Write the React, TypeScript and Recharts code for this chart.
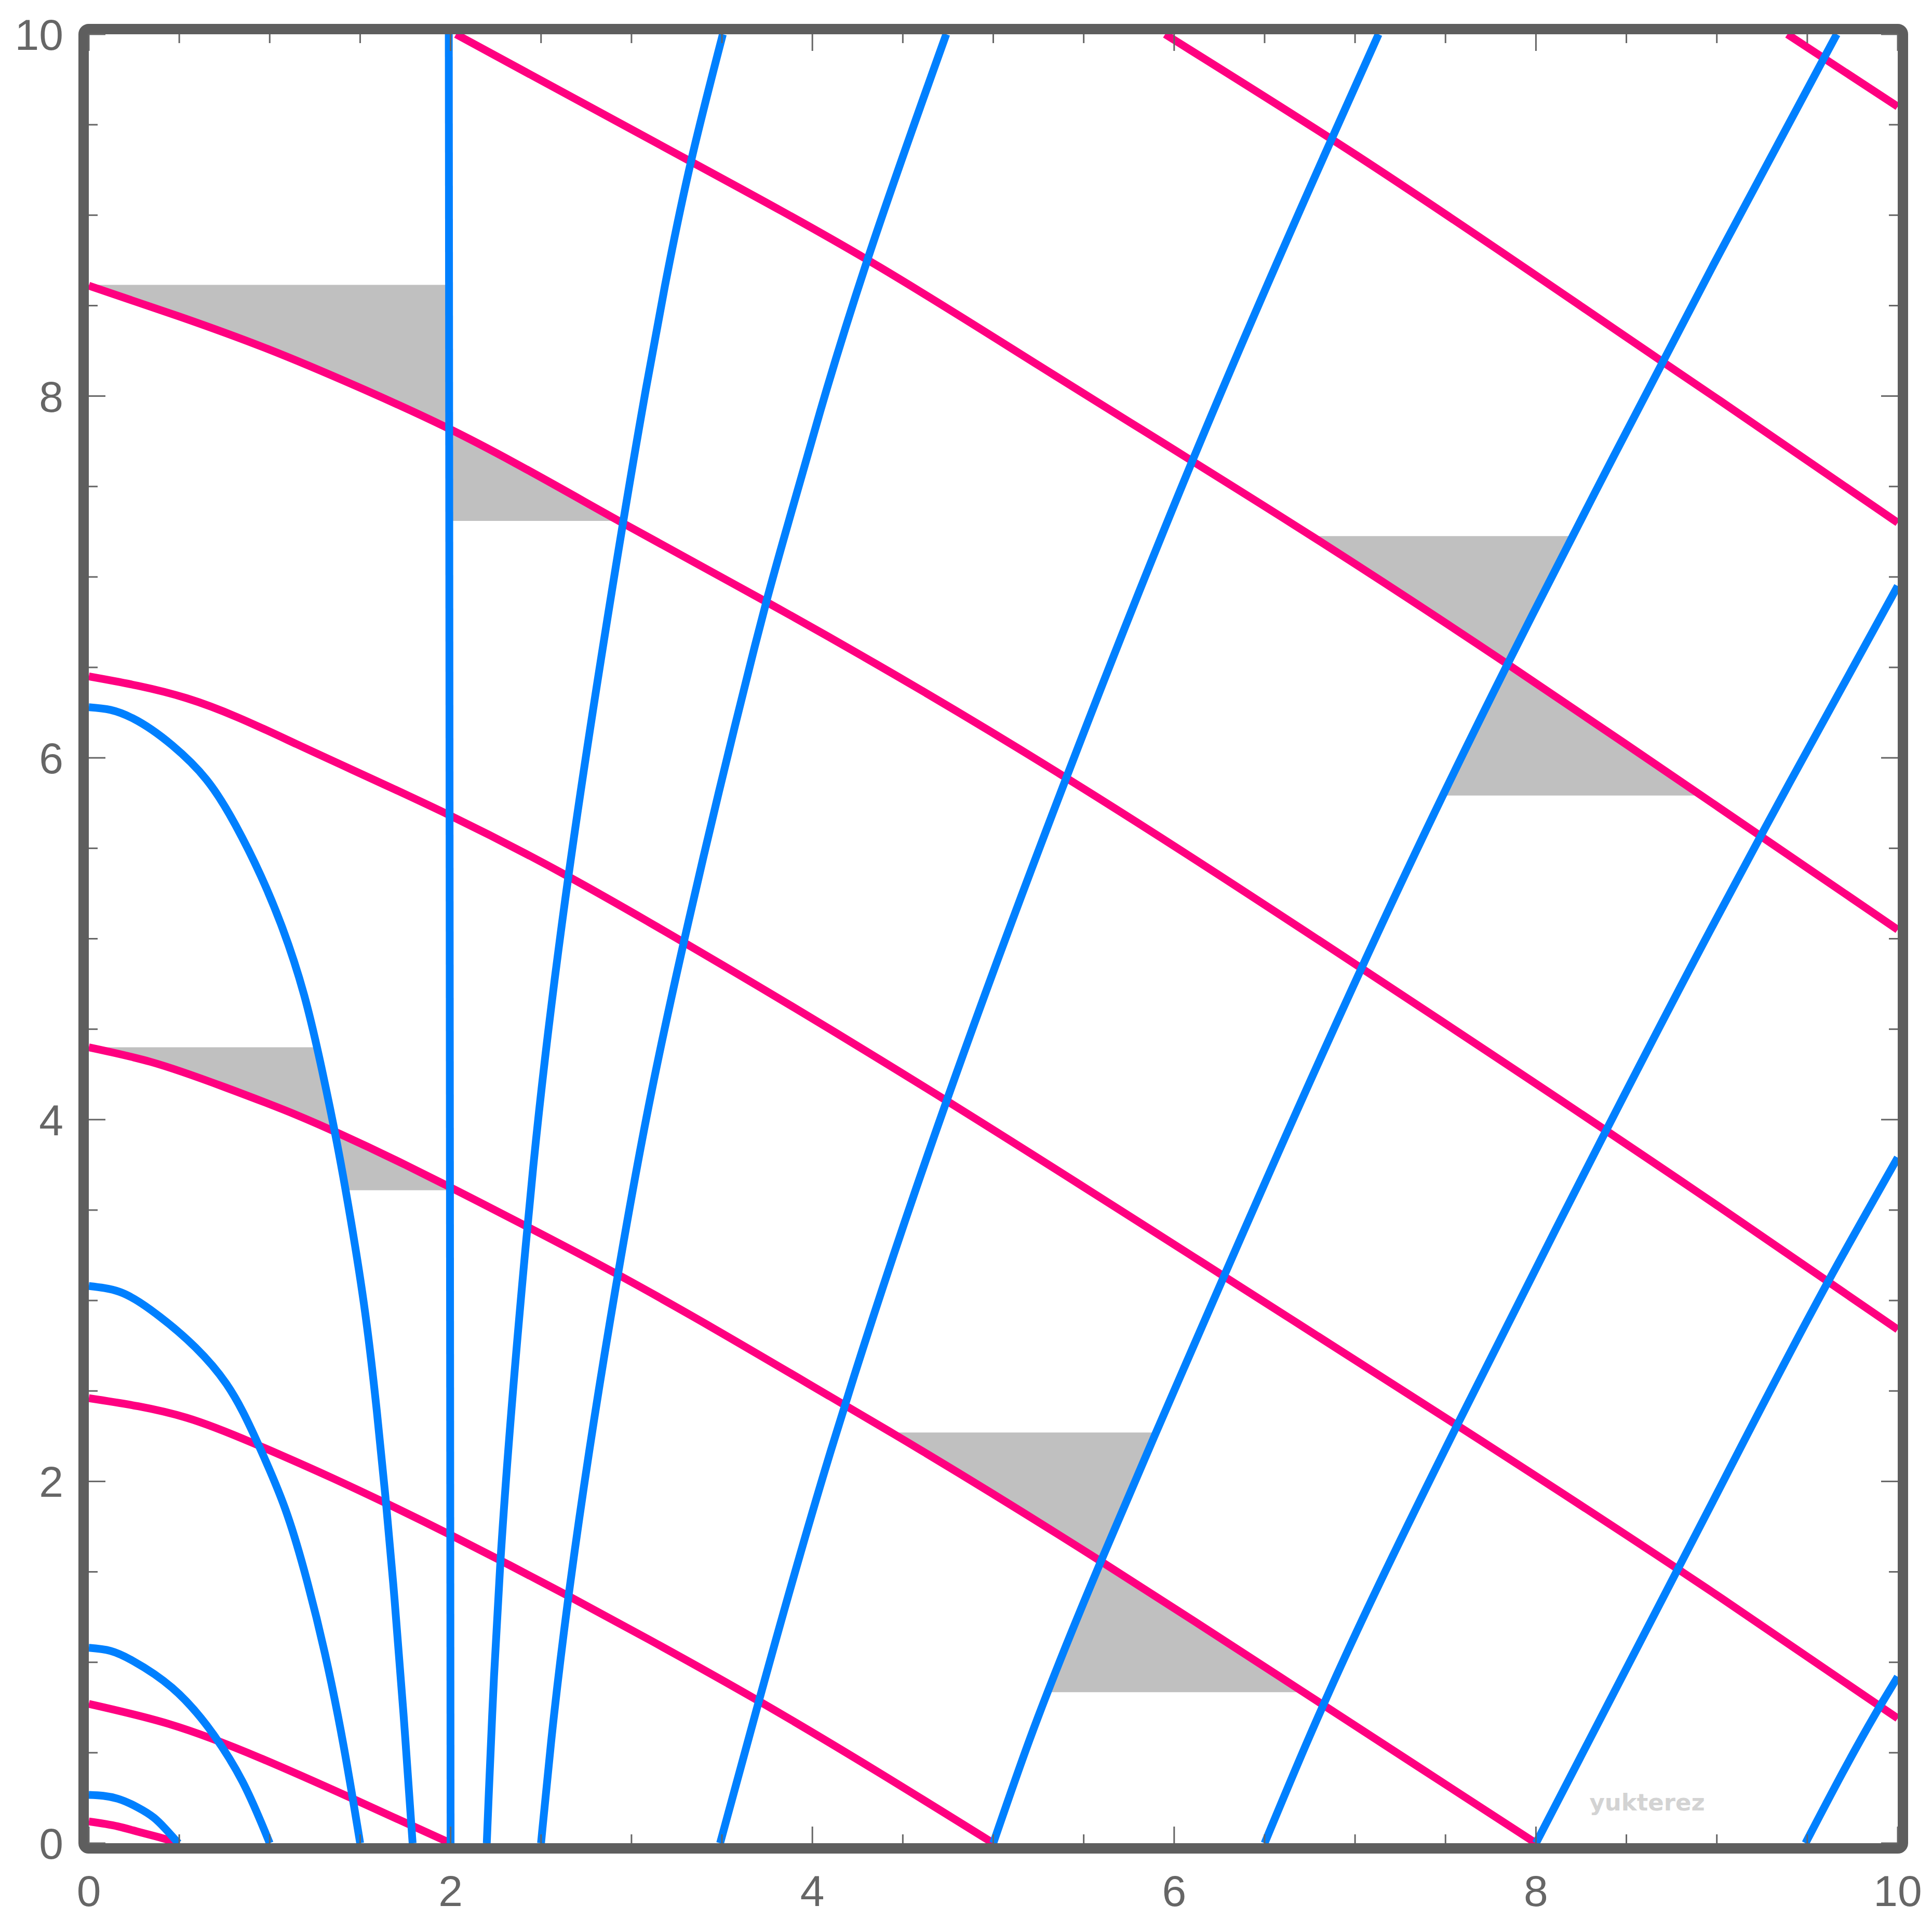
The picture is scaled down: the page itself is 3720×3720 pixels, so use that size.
import React from "react";
import { ComposedChart, Line, Area, XAxis, YAxis, ReferenceArea } from "recharts";

type Pt = [number, number];
type Band = [number, number, number];

const xTicks = [0, 0.5, 1, 1.5, 2, 2.5, 3, 3.5, 4, 4.5, 5, 5.5, 6, 6.5, 7, 7.5, 8, 8.5, 9, 9.5, 10];
const yTicks = [0, 0.5, 1, 1.5, 2, 2.5, 3, 3.5, 4, 4.5, 5, 5.5, 6, 6.5, 7, 7.5, 8, 8.5, 9, 9.5, 10];

// pink family, falling to the right
const pink1: Pt[] = [[0, 0.12], [0.16, 0.093], [0.27, 0.064], [0.38, 0.035], [0.5, 0]];
const pink2: Pt[] = [[0, 0.77], [0.44, 0.66], [0.95, 0.47], [1.45, 0.25], [2.0, 0]];
const pink3: Pt[] = [[0, 2.46], [0.54, 2.352], [0.91, 2.211], [1.35, 2.017], [1.65, 1.876], [2.0, 1.704], [2.28, 1.561], [2.66, 1.362], [3.1, 1.124], [3.7, 0.788], [5.0, 0]];
const pink4: Pt[] = [[0, 4.4], [0.34, 4.32], [0.75, 4.18], [1.15, 4.025], [1.39, 3.92], [1.75, 3.75], [2.0, 3.625], [2.42, 3.41], [2.92, 3.146], [4.1, 2.468], [4.45, 2.262], [5.6, 1.555], [6.7, 0.845], [8.0, 0]];
const pink5: Pt[] = [[0, 6.45], [0.54, 6.33], [1.15, 6.075], [2.0, 5.68], [2.64, 5.35], [3.1, 5.09], [4.72, 4.118], [6.25, 3.15], [7.58, 2.3], [8.98, 1.385], [10, 0.69]];
const pink6: Pt[] = [[0, 8.61], [0.5, 8.44], [0.99, 8.26], [1.49, 8.05], [1.97, 7.83], [2.93, 7.31], [3.74, 6.865], [4.29, 6.555], [5.37, 5.91], [7.0, 4.86], [8.98, 3.54], [10, 2.84]];
const pink7: Pt[] = [[2.03, 10], [3.34, 9.29], [4.31, 8.75], [5.25, 8.17], [6.76, 7.226], [7.84, 6.52], [8.88, 5.815], [10, 5.05]];
const pink8: Pt[] = [[5.95, 10], [7.01, 9.33], [8.67, 8.21], [8.98, 8.0], [10, 7.3]];
const pink9: Pt[] = [[9.39, 10], [10, 9.6]];

// blue family, rising to the right
const blue05: Pt[] = [[0, 0.267], [0.08, 0.262], [0.16, 0.246], [0.27, 0.198], [0.36, 0.141], [0.42, 0.083], [0.495, 0]];
const blue10: Pt[] = [[0, 1.08], [0.12, 1.063], [0.24, 1.01], [0.46, 0.86], [0.69, 0.6], [0.85, 0.34], [1.0, 0]];
const blue15: Pt[] = [[0, 3.08], [0.17, 3.048], [0.34, 2.95], [0.59, 2.74], [0.76, 2.54], [0.93, 2.22], [1.085, 1.85], [1.19, 1.51], [1.305, 1.05], [1.41, 0.53], [1.5, 0]];
const blue18: Pt[] = [[0, 6.28], [0.12, 6.265], [0.24, 6.22], [0.46, 6.07], [0.65, 5.88], [0.81, 5.63], [0.95, 5.35], [1.07, 5.06], [1.19, 4.69], [1.29, 4.27], [1.37, 3.88], [1.449, 3.44], [1.528, 2.93], [1.592, 2.39], [1.644, 1.87], [1.69, 1.35], [1.74, 0.71], [1.79, 0]];
const blue20: Pt[] = [[1.99, 10], [2.0, 0]];
const blue22: Pt[] = [[2.2, 0], [2.23, 0.71], [2.275, 1.55], [2.415, 3.3], [2.457, 3.74], [2.54, 4.49], [2.652, 5.35], [2.84, 6.6], [3.08, 8.04], [3.185, 8.61], [3.332, 9.31], [3.505, 10]];
const blue25: Pt[] = [[2.5, 0], [2.56, 0.6], [2.65, 1.35], [2.94, 3.23], [3.108, 4.14], [3.289, 4.98], [3.67, 6.57], [3.75, 6.88], [3.89, 7.38], [4.08, 8.04], [4.3, 8.74], [4.74, 10]];
const blue35: Pt[] = [[3.49, 0], [3.7, 0.77], [4.09, 2.13], [4.23, 2.58], [4.755, 4.14], [5.4, 5.88], [6.1, 7.64], [6.83, 9.33], [7.13, 10]];
const blue50: Pt[] = [[5.0, 0], [5.2, 0.57], [5.594, 1.556], [6.034, 2.58], [7.393, 5.6], [7.845, 6.522], [8.323, 7.46], [8.981, 8.725], [9.663, 10]];
const blue65: Pt[] = [[6.5, 0], [6.74, 0.571], [6.974, 1.094], [7.564, 2.31], [8.347, 3.86], [8.984, 5.085], [9.26, 5.6], [10, 6.95]];
const blue80: Pt[] = [[8.0, 0], [8.98, 1.893], [9.618, 3.11], [10, 3.79]];
const blue95: Pt[] = [[9.49, 0], [9.907, 0.766], [10, 0.92]];

// shaded wedges: x, lower, upper
const shadeA1: Band[] = [[0, 8.61, 8.615], [0.5, 8.44, 8.615], [0.99, 8.26, 8.615], [1.49, 8.05, 8.615], [1.985, 7.823, 8.615]];
const shadeA2: Band[] = [[1.985, 7.31, 7.823], [2.5, 7.31, 7.544], [2.93, 7.31, 7.31]];
const shadeB1: Band[] = [[0, 4.4, 4.4], [0.34, 4.32, 4.4], [0.75, 4.18, 4.4], [1.15, 4.025, 4.4], [1.26, 3.977, 4.4], [1.31, 3.955, 4.17], [1.36, 3.933, 3.933]];
const shadeB2: Band[] = [[1.36, 3.933, 3.933], [1.42, 3.61, 3.906], [1.75, 3.61, 3.75], [2.0, 3.61, 3.625]];
const shadeC1: Band[] = [[4.44, 2.268, 2.27], [5.0, 1.924, 2.27], [5.594, 1.559, 2.27], [5.9, 2.27, 2.27]];
const shadeC2: Band[] = [[5.31, 0.835, 0.835], [5.594, 0.835, 1.556], [6.2, 0.835, 1.164], [6.715, 0.835, 0.835]];
const shadeD1: Band[] = [[6.76, 7.226, 7.226], [7.3, 6.87, 7.226], [7.84, 6.52, 7.226], [8.204, 7.226, 7.226]];
const shadeD2: Band[] = [[7.487, 5.792, 5.792], [7.84, 5.792, 6.52], [8.4, 5.792, 6.14], [8.915, 5.792, 5.792]];

const pinkCurves = [pink1, pink2, pink3, pink4, pink5, pink6, pink7, pink8, pink9];
const blueCurves = [blue05, blue10, blue15, blue18, blue20, blue22, blue25, blue35, blue50, blue65, blue80, blue95];
const shades = [shadeA1, shadeA2, shadeB1, shadeB2, shadeC1, shadeC2, shadeD1, shadeD2];

const PINK = "#ff0080";
const BLUE = "#0080ff";
const SHADE = "#c0c0c0";
const FRAME = "#5e5e5e";
const TICK = "#666666";
const LABEL = "#666666";
const FONT = "'Liberation Sans', Arial, sans-serif";

const toXY = (pts: Pt[]) => pts.map(([x, y]) => ({ x, y }));
const toBand = (pts: Band[]) => pts.map(([x, lo, hi]) => ({ x, r: [lo, hi] }));
const isMajor = (v: number) => Math.abs(v / 2 - Math.round(v / 2)) < 1e-6;
const tickLen = (v: number) => (isMajor(v) ? 32 : 17);

// natural cubic spline over chord length, handed to recharts as a curve factory
function chordSpline(context: any) {
  let pts: number[][] = [];
  const secondDerivs = (v: number[], h: number[]) => {
    const n = v.length;
    const M = new Array(n).fill(0);
    const m = n - 2;
    if (m < 1) return M;
    const a: number[] = [], b: number[] = [], c: number[] = [], d: number[] = [];
    for (let i = 1; i <= n - 2; i++) {
      a.push(h[i - 1]);
      b.push(2 * (h[i - 1] + h[i]));
      c.push(h[i]);
      d.push(6 * ((v[i + 1] - v[i]) / h[i] - (v[i] - v[i - 1]) / h[i - 1]));
    }
    for (let i = 1; i < m; i++) {
      const w = a[i] / b[i - 1];
      b[i] -= w * c[i - 1];
      d[i] -= w * d[i - 1];
    }
    const s = new Array(m);
    s[m - 1] = d[m - 1] / b[m - 1];
    for (let i = m - 2; i >= 0; i--) s[i] = (d[i] - c[i] * s[i + 1]) / b[i];
    for (let i = 0; i < m; i++) M[i + 1] = s[i];
    return M;
  };
  return {
    areaStart() {},
    areaEnd() {},
    lineStart() {
      pts = [];
    },
    point(x: number, y: number) {
      pts.push([+x, +y]);
    },
    lineEnd() {
      const n = pts.length;
      if (!n) return;
      context.moveTo(pts[0][0], pts[0][1]);
      if (n === 2) {
        context.lineTo(pts[1][0], pts[1][1]);
        return;
      }
      const h: number[] = [];
      for (let i = 0; i < n - 1; i++) {
        h.push(Math.max(1e-6, Math.hypot(pts[i + 1][0] - pts[i][0], pts[i + 1][1] - pts[i][1])));
      }
      const xs = pts.map((p) => p[0]);
      const ys = pts.map((p) => p[1]);
      const MX = secondDerivs(xs, h);
      const MY = secondDerivs(ys, h);
      const ctrl = (v: number[], M: number[], i: number) => {
        const hi = h[i];
        const s = (v[i + 1] - v[i]) / hi;
        const d0 = s - (hi * (2 * M[i] + M[i + 1])) / 6;
        const d1 = s + (hi * (M[i] + 2 * M[i + 1])) / 6;
        return [v[i] + (hi * d0) / 3, v[i + 1] - (hi * d1) / 3];
      };
      for (let i = 0; i < n - 1; i++) {
        const [x1, x2] = ctrl(xs, MX, i);
        const [y1, y2] = ctrl(ys, MY, i);
        context.bezierCurveTo(x1, y1, x2, y2, xs[i + 1], ys[i + 1]);
      }
    },
  };
}

function BottomTick({ x, y, payload }: any) {
  const v = payload.value;
  return (
    <g>
      <line x1={x} x2={x} y1={y} y2={y - tickLen(v)} stroke={TICK} strokeWidth={3} />
      {isMajor(v) && (
        <text x={x} y={y + 121} textAnchor="middle" fontSize={84} fill={LABEL} fontFamily={FONT}>
          {v}
        </text>
      )}
    </g>
  );
}

function TopTick({ x, y, payload }: any) {
  return <line x1={x} x2={x} y1={y} y2={y + tickLen(payload.value)} stroke={TICK} strokeWidth={3} />;
}

function LeftTick({ x, y, payload }: any) {
  const v = payload.value;
  return (
    <g>
      <line x1={x} x2={x + tickLen(v)} y1={y} y2={y} stroke={TICK} strokeWidth={3} />
      {isMajor(v) && (
        <text x={x - 49} y={y + 30} textAnchor="end" fontSize={84} fill={LABEL} fontFamily={FONT}>
          {v}
        </text>
      )}
    </g>
  );
}

function RightTick({ x, y, payload }: any) {
  return <line x1={x} x2={x - tickLen(payload.value)} y1={y} y2={y} stroke={TICK} strokeWidth={3} />;
}

function Frame(p: any) {
  const sx = p.width / 10;
  const sy = p.height / 10;
  return (
    <g>
      <rect x={p.x - 10} y={p.y - 10} width={p.width + 20} height={p.height + 20} rx={10} fill="none" stroke={FRAME} strokeWidth={20} />
      <text
        x={p.x + 8.615 * sx}
        y={p.y + p.height - 0.18 * sy}
        textAnchor="middle"
        fontSize={45}
        fontWeight="bold"
        fill="#d3d3d3"
        fontFamily="'DejaVu Sans', sans-serif"
      >
        yukterez
      </text>
    </g>
  );
}

export default function App() {
  return (
    <div style={{ position: "absolute", left: 0, top: 0, width: 3720, height: 3720, background: "#fff" }}>
      <ComposedChart width={3720} height={3720} margin={{ top: 36, right: 36, bottom: 71, left: 71 }}>
        <XAxis
          type="number"
          dataKey="x"
          domain={[0, 10]}
          ticks={xTicks}
          interval={0}
          height={100}
          tickSize={0}
          tickMargin={0}
          tickLine={false}
          axisLine={false}
          tick={(p: any) => <BottomTick {...p} />}
          allowDataOverflow
        />
        <XAxis
          xAxisId="top"
          orientation="top"
          type="number"
          dataKey="x"
          domain={[0, 10]}
          ticks={xTicks}
          interval={0}
          height={30}
          tickSize={0}
          tickMargin={0}
          tickLine={false}
          axisLine={false}
          tick={(p: any) => <TopTick {...p} />}
          allowDataOverflow
        />
        <YAxis
          type="number"
          domain={[0, 10]}
          ticks={yTicks}
          interval={0}
          width={100}
          tickSize={0}
          tickMargin={0}
          tickLine={false}
          axisLine={false}
          tick={(p: any) => <LeftTick {...p} />}
          allowDataOverflow
        />
        <YAxis
          yAxisId="right"
          orientation="right"
          type="number"
          domain={[0, 10]}
          ticks={yTicks}
          interval={0}
          width={30}
          tickSize={0}
          tickMargin={0}
          tickLine={false}
          axisLine={false}
          tick={(p: any) => <RightTick {...p} />}
          allowDataOverflow
        />
        {shades.map((s, i) => (
          <Area
            key={"s" + i}
            data={toBand(s)}
            dataKey="r"
            type="linear"
            stroke="none"
            fill={SHADE}
            fillOpacity={1}
            dot={false}
            activeDot={false}
            isAnimationActive={false}
          />
        ))}
        {pinkCurves.map((c, i) => (
          <Line
            key={"p" + i}
            data={toXY(c)}
            dataKey="y"
            type={chordSpline as any}
            stroke={PINK}
            strokeWidth={15}
            dot={false}
            activeDot={false}
            isAnimationActive={false}
          />
        ))}
        {blueCurves.map((c, i) => (
          <Line
            key={"b" + i}
            data={toXY(c)}
            dataKey="y"
            type={chordSpline as any}
            stroke={BLUE}
            strokeWidth={15}
            dot={false}
            activeDot={false}
            isAnimationActive={false}
          />
        ))}
        <ReferenceArea x1={0} x2={10} y1={0} y2={10} fill="none" stroke="none" shape={(p: any) => <Frame {...p} />} />
      </ComposedChart>
    </div>
  );
}
